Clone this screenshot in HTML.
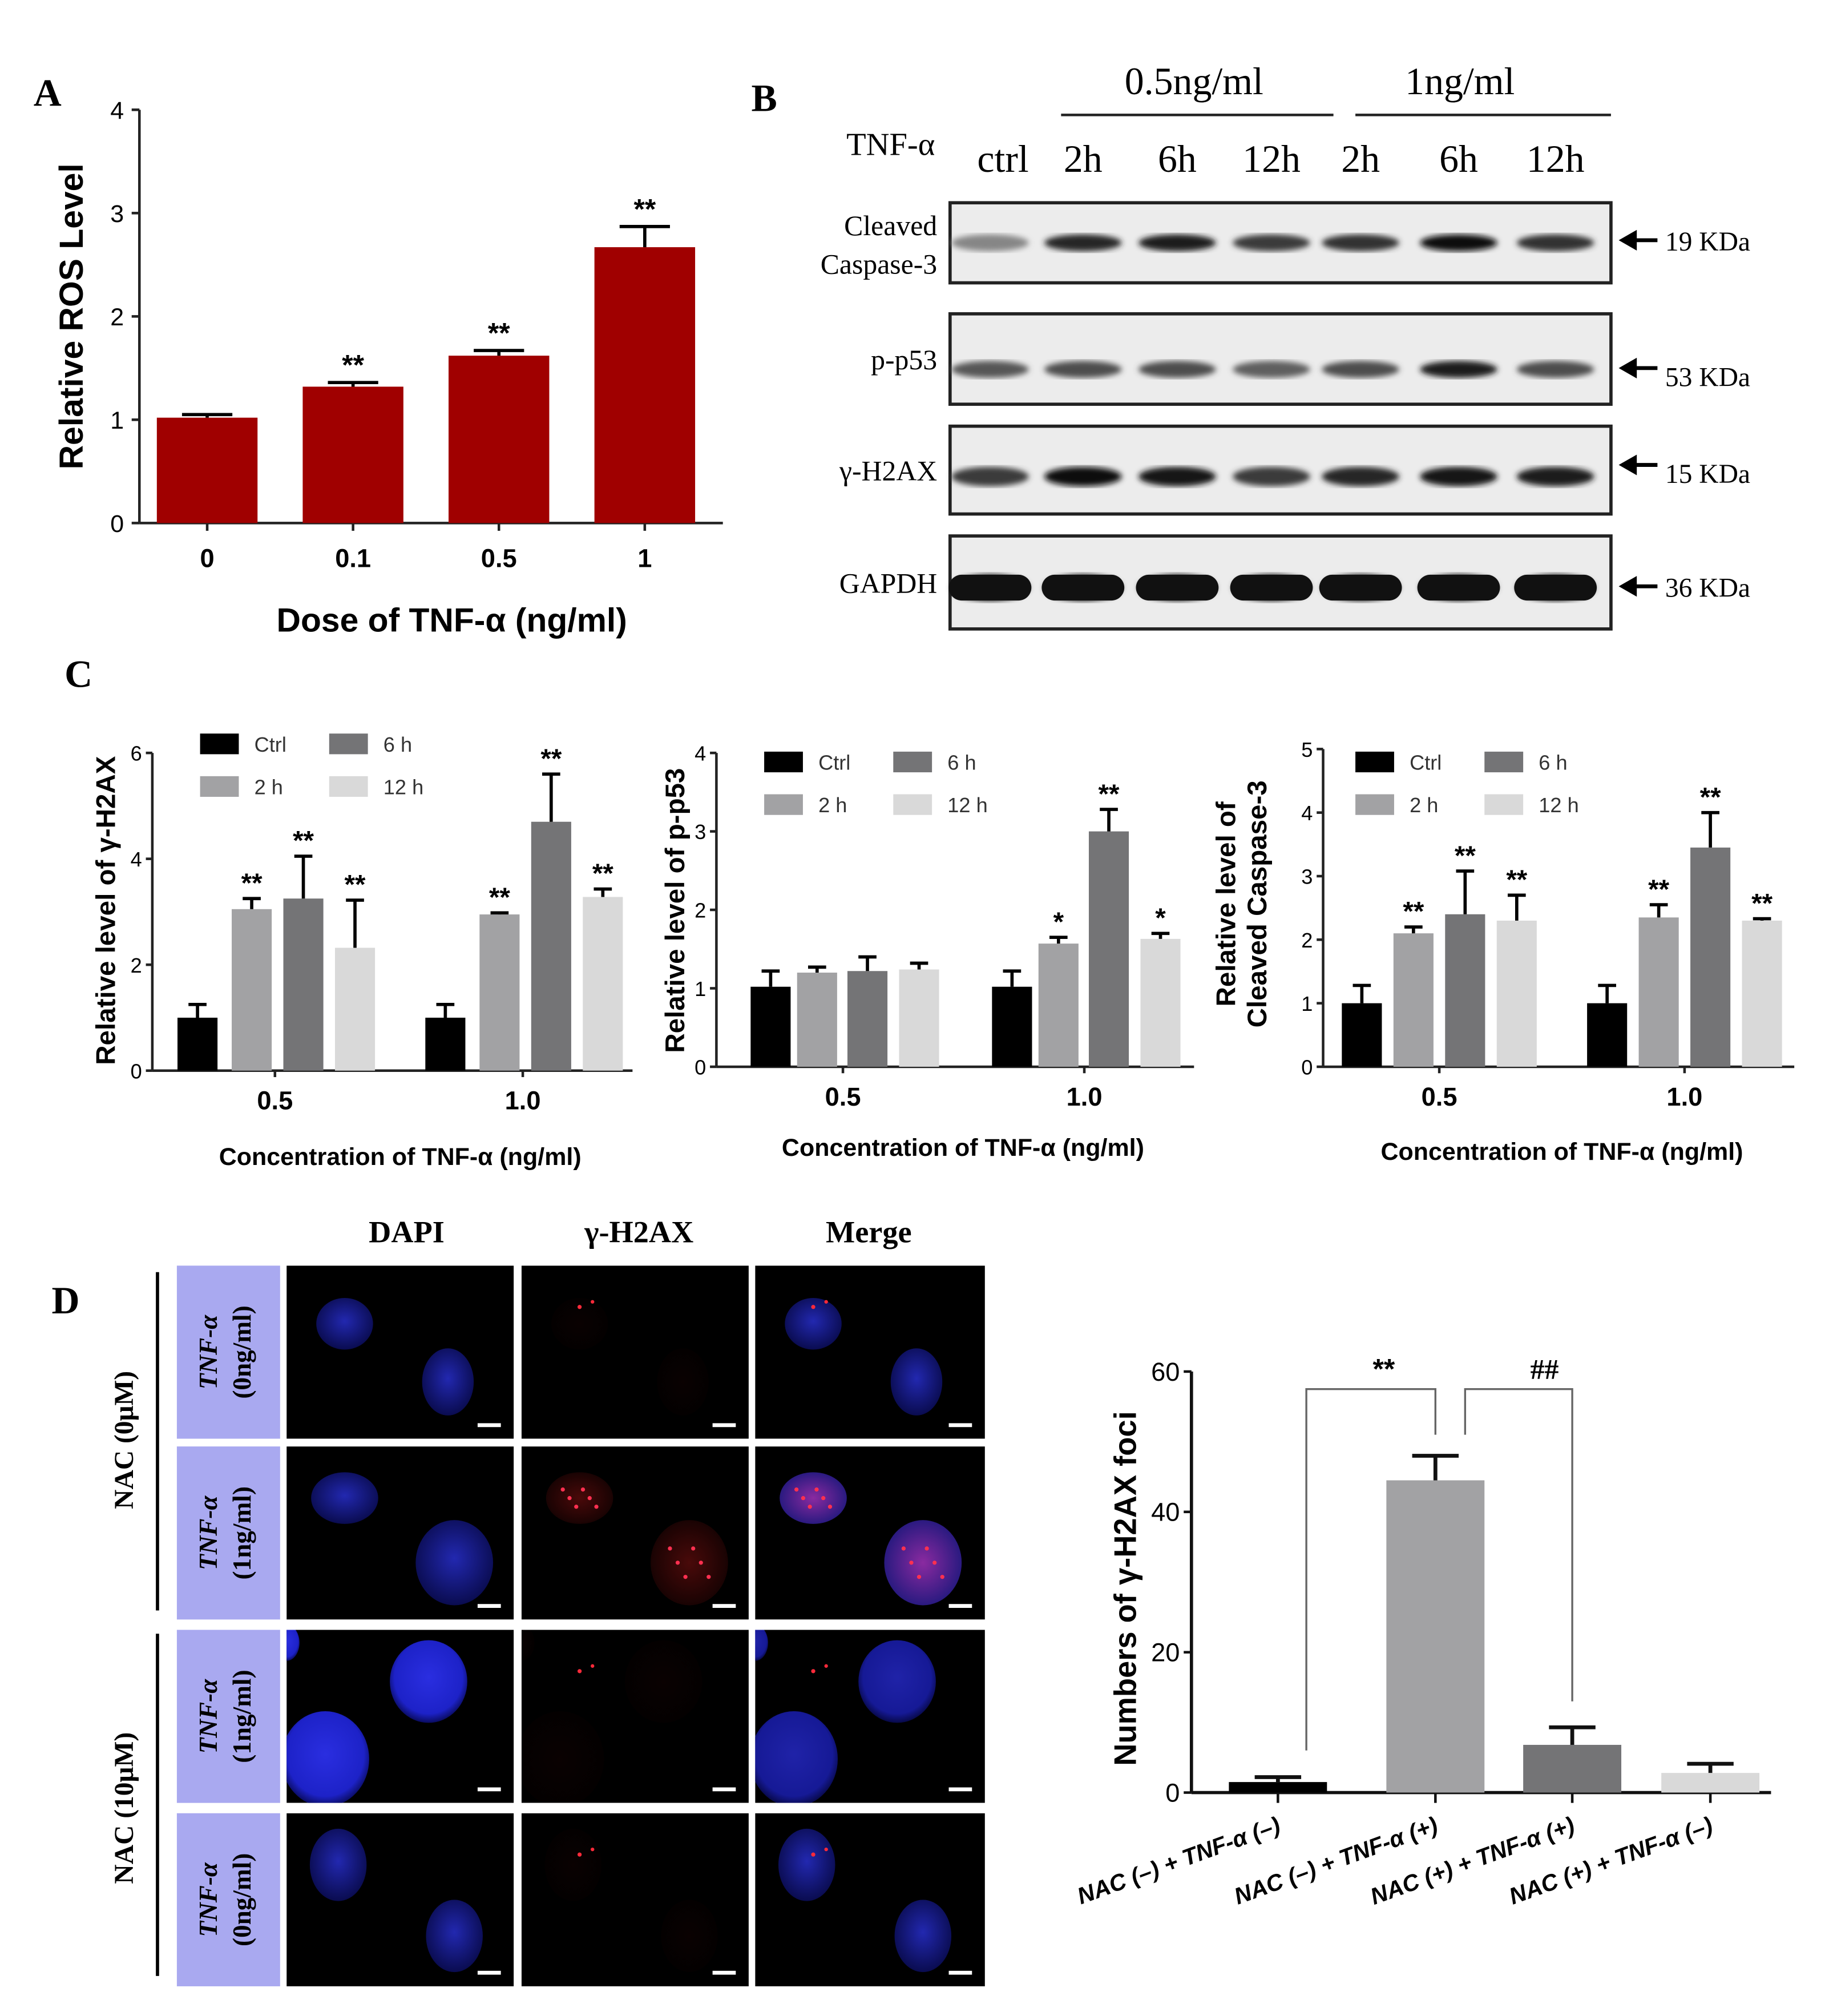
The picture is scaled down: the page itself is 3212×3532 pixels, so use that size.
<!DOCTYPE html>
<html><head><meta charset="utf-8">
<style>
html,body{margin:0;padding:0;background:#fff;}
svg{display:block;}
</style></head>
<body>
<svg id="fig" xmlns="http://www.w3.org/2000/svg" width="3212" height="3532" viewBox="0 0 1420 1561" preserveAspectRatio="none" font-family="Liberation Sans, sans-serif">
<defs>
<radialGradient id="nuc" cx="50%" cy="45%" r="55%"><stop offset="0" stop-color="#2a2ee0"/><stop offset="0.8" stop-color="#1d22c8"/><stop offset="1" stop-color="#0a0c60"/></radialGradient>
<radialGradient id="nucd" cx="50%" cy="45%" r="55%"><stop offset="0" stop-color="#2228b0"/><stop offset="1" stop-color="#0a0c50"/></radialGradient>
<radialGradient id="redn" cx="50%" cy="50%" r="50%"><stop offset="0" stop-color="#7a1010"/><stop offset="1" stop-color="#2a0505"/></radialGradient>
<radialGradient id="magn" cx="50%" cy="50%" r="50%"><stop offset="0" stop-color="#8a2aa0"/><stop offset="1" stop-color="#2a1a80"/></radialGradient>
<filter id="blur"><feGaussianBlur stdDeviation="2.2"/></filter>
</defs>

<text font-family="Liberation Serif, serif" x="26" y="82" font-size="30" font-weight="bold">A</text>
<text font-family="Liberation Serif, serif" x="582" y="86" font-size="30" font-weight="bold">B</text>
<text font-family="Liberation Serif, serif" x="50" y="532" font-size="30" font-weight="bold">C</text>
<text font-family="Liberation Serif, serif" x="40" y="1017" font-size="30" font-weight="bold">D</text>

<g id="chartA"></g>
<g id="panelB"></g>
<g id="chartC1"></g>
<g id="chartC2"></g>
<g id="chartC3"></g>
<g id="panelD"></g>
<g id="chartD"></g>
</svg>
<script>
// ---------- data ----------
const aCategories = ["0","0.1","0.5","1"];
const aValues = [1.02, 1.32, 1.62, 2.67];
const aErrors = [0.03, 0.04, 0.05, 0.2];
const aStars = ["", "**", "**", "**"];
const aTicks = [0,1,2,3,4];

const cGroups = ["0.5","1.0"];
const cSeries = ["Ctrl","2 h","6 h","12 h"];
const h2axValues = [[1.0,3.05,3.25,2.32],[1.0,2.95,4.7,3.28]];
const h2axErrors = [[0.25,0.2,0.8,0.9],[0.25,0.03,0.9,0.15]];
const h2axStars = [["","**","**","**"],["","**","**","**"]];
const h2axTicks = [0,2,4,6];
const p53Values = [[1.02,1.2,1.22,1.24],[1.02,1.57,3.0,1.63]];
const p53Errors = [[0.2,0.07,0.18,0.08],[0.2,0.08,0.28,0.07]];
const p53Stars = [["","","",""],["","*","**","*"]];
const p53Ticks = [0,1,2,3,4];
const casValues = [[1.0,2.1,2.4,2.3],[1.0,2.35,3.45,2.3]];
const casErrors = [[0.28,0.1,0.68,0.4],[0.28,0.2,0.55,0.03]];
const casStars = [["","**","**","**"],["","**","**","**"]];
const casTicks = [0,1,2,3,4,5];

const dCategories = ["NAC (\u2013) + TNF-\u03b1  (\u2013)","NAC (\u2013) + TNF-\u03b1  (+)","NAC (+) + TNF-\u03b1 (+)","NAC (+) + TNF-\u03b1 (\u2013)"];
const dValues = [1.5, 44.5, 6.8, 2.8];
const dErrors = [0.7, 3.5, 2.5, 1.3];
const dTicks = [0,20,40,60];

const blotLanes = ["ctrl","2h","6h","12h","2h","6h","12h"];
const casBand = [0.35,0.85,0.9,0.75,0.8,1.0,0.8];
const p53Band = [0.6,0.65,0.65,0.55,0.65,0.9,0.65];
const h2axBand = [0.75,1.0,0.95,0.75,0.85,0.95,0.9];
const gapdhBand = [1,1,1,1,1,1,1];

// ---------- helpers ----------
const NS="http://www.w3.org/2000/svg";
const SER="Liberation Serif, serif";
function mk(parent, tag, attrs, text){
  const e=document.createElementNS(NS,tag);
  for(const k in attrs) e.setAttribute(k,attrs[k]);
  if(text!==undefined) e.textContent=text;
  parent.appendChild(e); return e;
}
const seriesColors=["#000000","#a2a2a4","#747476","#d9d9d9"];

// ---------- Chart A ----------
(function(){
  const g=document.getElementById('chartA');
  const x0=108, x1=560, y0=405, yTop=85, vmax=4;
  const ys=v=>y0-(v/vmax)*(y0-yTop);
  const step=(x1-x0)/aCategories.length;
  const xc=i=>x0+step*(i+0.5)-4;
  let ax=mk(g,'line',{x1:x0,y1:yTop,x2:x0,y2:y0,stroke:'#222','stroke-width':2});
   
  ax=mk(g,'line',{x1:x0,y1:y0,x2:x1,y2:y0,stroke:'#222','stroke-width':2});
   
  aTicks.forEach(t=>{
    mk(g,'line',{x1:x0-6,y1:ys(t),x2:x0,y2:ys(t),stroke:'#222','stroke-width':2});
    const tl=mk(g,'text',{x:x0-12,y:ys(t)+7,'font-size':19,'text-anchor':'end'},t);
     
  });
  aCategories.forEach((c,i)=>{
    const x=xc(i), w=78;
    mk(g,'line',{x1:x,y1:y0,x2:x,y2:y0+6,stroke:'#222','stroke-width':2});
    const b=mk(g,'rect',{x:x-w/2,y:ys(aValues[i]),width:w,height:y0-ys(aValues[i]),fill:'#a00000'});
     
    const ye=ys(aValues[i]+aErrors[i]);
    mk(g,'line',{x1:x,y1:ys(aValues[i]),x2:x,y2:ye,stroke:'#000','stroke-width':2.5});
    mk(g,'line',{x1:x-w/4,y1:ye,x2:x+w/4,y2:ye,stroke:'#000','stroke-width':2.5});
    if(aStars[i]){const s=mk(g,'text',{x:x,y:ye-6,'font-size':22,'font-weight':'bold','text-anchor':'middle'},aStars[i]);
       }
    const tl=mk(g,'text',{x:x,y:y0+34,'font-size':20,'font-weight':'bold','text-anchor':'middle'},c);
     
  });
  let t=mk(g,'text',{x:350,y:489,'font-size':26,'font-weight':'bold','text-anchor':'middle'},'Dose of TNF-\u03b1 (ng/ml)');
   
  t=mk(g,'text',{x:0,y:0,'font-size':26,'font-weight':'bold','text-anchor':'middle',transform:'translate(64,245) rotate(-90)'},'Relative ROS Level');
   
})();

// ---------- Panel B ----------
(function(){
  const g=document.getElementById('panelB');
  let t;
  t=mk(g,'text',{x:925,y:73,'font-size':30,'text-anchor':'middle','font-family':SER},'0.5ng/ml');
   
  mk(g,'line',{x1:822,y1:89,x2:1033,y2:89,stroke:'#222','stroke-width':2});
  t=mk(g,'text',{x:1131,y:73,'font-size':30,'text-anchor':'middle','font-family':SER},'1ng/ml');
   
  mk(g,'line',{x1:1050,y1:89,x2:1248,y2:89,stroke:'#222','stroke-width':2});
  t=mk(g,'text',{x:690,y:120,'font-size':25,'text-anchor':'middle','font-family':SER},'TNF-\u03b1');
   
  const laneX=[767,839,912,985,1054,1130,1205];
  blotLanes.forEach((l,i)=>{
    const tl=mk(g,'text',{x:laneX[i]+(i==0?10:0),y:133,'font-size':30,'text-anchor':'middle','font-family':SER},l);
     
  });
  const blots=[
    {name:'cleaved-caspase-3',y:157,h:62,by:188,bh:9,data:casBand,labels:['Cleaved','Caspase-3'],kda:'19 KDa',ay:186},
    {name:'p-p53',y:243,h:70,by:286,bh:9,data:p53Band,labels:['p-p53'],kda:'53 KDa',ay:285},
    {name:'h2ax',y:330,h:68,by:369,bh:11,data:h2axBand,labels:['\u03b3-H2AX'],kda:'15 KDa',ay:360},
    {name:'gapdh',y:415,h:72,by:455,bh:20,data:gapdhBand,labels:['GAPDH'],kda:'36 KDa',ay:454}
  ];
  blots.forEach(b=>{
    const r=mk(g,'rect',{x:736,y:b.y,width:512,height:b.h,fill:'#ececec',stroke:'#222','stroke-width':2.5});
     
    b.data.forEach((v,i)=>{
      const gray=Math.round(200-190*v);
      const band=mk(g,'ellipse',{cx:laneX[i],cy:b.by,rx:30,ry:b.bh/2+ (b.name=='gapdh'?0:2),fill:`rgb(${gray},${gray},${gray})`,filter:'url(#blur)'});
       
      if(b.name=='gapdh') mk(g,'rect',{x:laneX[i]-32,y:b.by-b.bh/2,width:64,height:b.bh,rx:10,fill:'#111'});
    });
    const cy=b.y+b.h/2;
    b.labels.forEach((lab,j)=>{
      const off=b.labels.length==2?(j==0?-6:24):8;
      const tl=mk(g,'text',{x:726,y:cy+off,'font-size':22,'text-anchor':'end','font-family':SER},lab);
       
    });
    mk(g,'line',{x1:1262,y1:b.ay,x2:1284,y2:b.ay,stroke:'#000','stroke-width':3});
    mk(g,'polygon',{points:`1254,${b.ay} 1268,${b.ay-8} 1268,${b.ay+8}`,fill:'#000'});
    const kl=mk(g,'text',{x:1290,y:b.ay+(b.name=='p-p53'?14:(b.name=='h2ax'?14:8)),'font-size':21,'font-family':SER},b.kda);
     
  });
})();

// ---------- Panel C charts ----------
function groupedChart(id,cfg,values,errors,stars,ticks){
  const g=document.getElementById(id);
  const {x0,x1,y0,yTop,vmax,groupX,barOff,bw}=cfg;
  const ys=v=>y0-(v/vmax)*(y0-yTop);
  let a=mk(g,'line',{x1:x0,y1:yTop,x2:x0,y2:y0,stroke:'#222','stroke-width':2});
   
  a=mk(g,'line',{x1:x0,y1:y0,x2:x1,y2:y0,stroke:'#222','stroke-width':2});
   
  ticks.forEach(t=>{
    mk(g,'line',{x1:x0-5,y1:ys(t),x2:x0,y2:ys(t),stroke:'#222','stroke-width':2});
    const tl=mk(g,'text',{x:x0-8,y:ys(t)+6,'font-size':16,'text-anchor':'end'},t);
     
  });
  cGroups.forEach((gn,gi)=>{
    const gx=groupX[gi];
    mk(g,'line',{x1:gx,y1:y0,x2:gx,y2:y0+5,stroke:'#222','stroke-width':2});
    const tl=mk(g,'text',{x:gx,y:y0+30,'font-size':20,'font-weight':'bold','text-anchor':'middle'},gn);
     
    cSeries.forEach((s,si)=>{
      const x=gx+barOff[si], v=values[gi][si];
      const b=mk(g,'rect',{x:x-bw/2,y:ys(v),width:bw,height:y0-ys(v),fill:seriesColors[si]});
       
      const ye=ys(v+errors[gi][si]);
      mk(g,'line',{x1:x,y1:ys(v),x2:x,y2:ye,stroke:'#000','stroke-width':2.5});
      mk(g,'line',{x1:x-7,y1:ye,x2:x+7,y2:ye,stroke:'#000','stroke-width':2.5});
      if(stars[gi][si]){const st=mk(g,'text',{x:x,y:ye-5,'font-size':21,'font-weight':'bold','text-anchor':'middle'},stars[gi][si]);
         }
    });
  });
  const L=cfg.legend;
  const pos=[[0,0],[0,1],[1,0],[1,1]];
  cSeries.forEach((s,si)=>{
    const [c,r]=pos[si];
    const lx=L.x+c*100, ly=L.y+r*33;
    const sw=mk(g,'rect',{x:lx,y:ly-8,width:30,height:16,fill:seriesColors[si]});
     
    const lt=mk(g,'text',{x:lx+42,y:ly+6,'font-size':16,fill:'#333'},s);
     
  });
  let t=mk(g,'text',{x:cfg.xt,y:cfg.xty,'font-size':19,'font-weight':'bold','text-anchor':'middle'},'Concentration of TNF-\u03b1 (ng/ml)');
   
  cfg.ytitle.forEach((line,i)=>{
    const tt=mk(g,'text',{x:0,y:0,'font-size':21,'font-weight':'bold','text-anchor':'middle',transform:`translate(${cfg.ytx+i*24},${cfg.yty}) rotate(-90)`},line);
     
  });
}
groupedChart('chartC1',{x0:118,x1:490,y0:829,yTop:583,vmax:6,groupX:[213,405],barOff:[-60,-18,22,62],bw:31,
  legend:{x:155,y:576},xt:310,xty:902,ytitle:['Relative level of \u03b3-H2AX'],ytx:89,yty:705},h2axValues,h2axErrors,h2axStars,h2axTicks);
groupedChart('chartC2',{x0:555,x1:925,y0:826,yTop:583,vmax:4,groupX:[653,840],barOff:[-56,-20,19,59],bw:31,
  legend:{x:592,y:590},xt:746,xty:895,ytitle:['Relative level of p-p53'],ytx:530,yty:705},p53Values,p53Errors,p53Stars,p53Ticks);
groupedChart('chartC3',{x0:1025,x1:1390,y0:826,yTop:580,vmax:5,groupX:[1115,1305],barOff:[-60,-20,20,60],bw:31,
  legend:{x:1050,y:590},xt:1210,xty:898,ytitle:['Relative level of','Cleaved Caspase-3'],ytx:957,yty:700},casValues,casErrors,casStars,casTicks);

// ---------- Panel D micrographs ----------
(function(){
  const g=document.getElementById('panelD');
  const defs=document.querySelector('defs');
  const colX=[222,404,585], colW=[176,176,178];
  const rowY=[980,1120,1262,1404], rowH=134;
  const titles=['DAPI','\u03b3-H2AX','Merge'], tx=[315,495,673];
  titles.forEach((t,i)=>{const e=mk(g,'text',{x:tx[i],y:962,'font-size':24,'font-weight':'bold','text-anchor':'middle','font-family':SER},t);
     });
  const rowLab=[['TNF-\u03b1','(0ng/ml)'],['TNF-\u03b1','(1ng/ml)'],['TNF-\u03b1','(1ng/ml)'],['TNF-\u03b1','(0ng/ml)']];
  const cells=[
    [[45,45,22,20],[125,90,20,26]],
    [[45,40,26,20],[130,90,30,33]],
    [[110,40,30,32],[30,100,34,37],[0,10,10,14]],
    [[40,40,22,28],[130,95,22,28]]
  ];
  let cid=0;
  rowY.forEach((y,r)=>{
    const lb=mk(g,'rect',{x:137,y:y,width:80,height:rowH,fill:'#a9a9f0'});
     
    rowLab[r].forEach((s,j)=>{
      const e=mk(g,'text',{x:0,y:0,'font-size':20,'font-weight':'bold','text-anchor':'middle','font-family':SER,'font-style':j==0?'italic':'normal',transform:`translate(${168+j*26},${y+rowH/2}) rotate(-90)`},s);
       
    });
    colX.forEach((x,c)=>{
      const cp=mk(defs,'clipPath',{id:'cp'+cid});
      mk(cp,'rect',{x:x,y:y,width:colW[c],height:rowH});
      const cg=mk(g,'g',{'clip-path':`url(#cp${cid})`}); cid++;
      const img=mk(cg,'rect',{x:x,y:y,width:colW[c],height:rowH,fill:'#000'});
       
      cells[r].forEach(n=>{
        let fill, op=1;
        if(c==0){fill=(r==2?'url(#nuc)':'url(#nucd)');}
        else if(c==1){fill='url(#redn)'; op=(r==1?0.6:0.08);}
        else {fill=(r==1?'url(#magn)':(r==2?'url(#nuc)':'url(#nucd)')); op=(r==2?0.75:1);}
        mk(cg,'ellipse',{cx:x+n[0],cy:y+n[1],rx:n[2],ry:n[3],fill:fill,opacity:op});
        if(c>0 && r==1){for(let k=0;k<6;k++) mk(cg,'circle',{cx:x+n[0]-n[2]/2+k*n[2]/5,cy:y+n[1]+((k%3)-1)*n[3]/3,r:1.6,fill:'#ff3050'});}
      });
      if(c>0 && r!=1){mk(cg,'circle',{cx:x+45,cy:y+32,r:1.6,fill:'#ff2a3a'});mk(cg,'circle',{cx:x+55,cy:y+28,r:1.4,fill:'#ff2a3a'});}
      mk(cg,'rect',{x:x+colW[c]-28,y:y+rowH-12,width:18,height:3,fill:'#fff'});
    });
  });
  mk(g,'line',{x1:122,y1:985,x2:122,y2:1247,stroke:'#000','stroke-width':2.5});
  mk(g,'line',{x1:122,y1:1265,x2:122,y2:1530,stroke:'#000','stroke-width':2.5});
  let e=mk(g,'text',{x:0,y:0,'font-size':21,'font-weight':'bold','text-anchor':'middle','font-family':SER,transform:'translate(103,1115) rotate(-90)'},'NAC (0\u03bcM)');
   
  e=mk(g,'text',{x:0,y:0,'font-size':21,'font-weight':'bold','text-anchor':'middle','font-family':SER,transform:'translate(103,1400) rotate(-90)'},'NAC (10\u03bcM)');
   
})();

// ---------- Chart D ----------
(function(){
  const g=document.getElementById('chartD');
  const x0=923,x1=1372,y0=1388,yTop=1062,vmax=60;
  const ys=v=>y0-(v/vmax)*(y0-yTop);
  const xs=[990,1112,1218,1325];
  const cols=["#000000","#a2a2a4","#747476","#d9d9d9"];
  let a=mk(g,'line',{x1:x0,y1:yTop,x2:x0,y2:y0,stroke:'#111','stroke-width':2.5});
   
  a=mk(g,'line',{x1:x0,y1:y0,x2:x1,y2:y0,stroke:'#111','stroke-width':2.5});
   
  dTicks.forEach(t=>{
    mk(g,'line',{x1:x0-6,y1:ys(t),x2:x0,y2:ys(t),stroke:'#111','stroke-width':2});
    const tl=mk(g,'text',{x:x0-9,y:ys(t)+7,'font-size':20,'text-anchor':'end'},t);
     
  });
  dCategories.forEach((c,i)=>{
    const x=xs[i], w=76, v=dValues[i];
    mk(g,'line',{x1:x,y1:y0,x2:x,y2:y0+8,stroke:'#111','stroke-width':2});
    const b=mk(g,'rect',{x:x-w/2,y:ys(v),width:w,height:y0-ys(v),fill:cols[i]});
     
    const ye=ys(v+dErrors[i]);
    mk(g,'line',{x1:x,y1:ys(v),x2:x,y2:ye,stroke:'#111','stroke-width':3});
    mk(g,'line',{x1:x-18,y1:ye,x2:x+18,y2:ye,stroke:'#111','stroke-width':3});
    const tl=mk(g,'text',{x:0,y:0,'font-size':18,'font-weight':'bold','font-style':'italic','text-anchor':'end',transform:`translate(${x+3},${y0+30}) rotate(-20)`},c);
     
  });
  const by=ys(57.5);
  mk(g,'polyline',{points:`${xs[0]+22},${ys(6)} ${xs[0]+22},${by} ${xs[1]},${by} ${xs[1]},${ys(51)}`,fill:'none',stroke:'#666','stroke-width':1.5});
  mk(g,'polyline',{points:`${xs[1]+23},${ys(51)} ${xs[1]+23},${by} ${xs[2]},${by} ${xs[2]},${ys(13)}`,fill:'none',stroke:'#666','stroke-width':1.5});
  let t=mk(g,'text',{x:(xs[0]+22+xs[1])/2+10,y:by-8,'font-size':22,'font-weight':'bold','text-anchor':'middle'},'**');
   
  t=mk(g,'text',{x:(xs[1]+23+xs[2])/2+20,y:by-8,'font-size':22,'font-weight':'bold','text-anchor':'middle','font-family':SER},'##');
   
  t=mk(g,'text',{x:0,y:0,'font-size':24,'font-weight':'bold','text-anchor':'middle',transform:'translate(880,1230) rotate(-90)'},'Numbers of \u03b3-H2AX foci');
   
})();
</script>
</body></html>
